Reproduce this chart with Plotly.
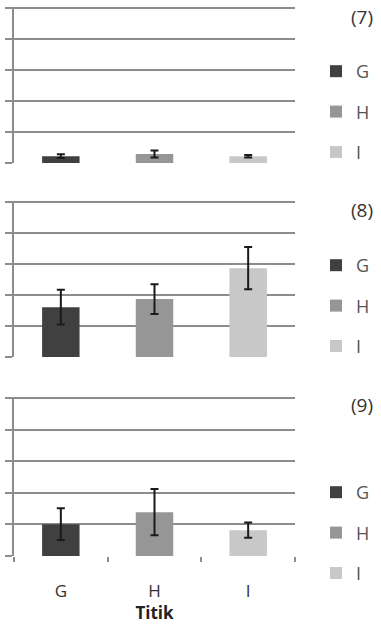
import plotly.graph_objects as go

categories = ["G", "H", "I"]
colors = ["#404040", "#969696", "#c8c8c8"]
panel_titles = ["(7)", "(8)", "(9)"]
values_7 = [0.22, 0.29, 0.22]
errors_7 = [0.06, 0.11, 0.04]
values_8 = [1.61, 1.87, 2.87]
errors_8 = [0.56, 0.48, 0.68]
values_9 = [1.01, 1.39, 0.82]
errors_9 = [0.50, 0.73, 0.24]
y_ticks = [0, 1, 2, 3, 4, 5]
x_title = "Titik"

panels = [(values_7, errors_7), (values_8, errors_8), (values_9, errors_9)]

W, H = 381, 624
def py(px):
    return 1 - px / H

ymax = 5.04
domains = [(py(163), py(7)), (py(357), py(201)), (py(556), py(397))]
legend_mid = [py(112), py(306), py(533)]
title_y = [py(17), py(210), py(405)]

fig = go.Figure()
grid = "#8c8c8c"
font = "Open Sans"

for p, (vals, errs) in enumerate(panels):
    xa = "x" if p == 0 else f"x{p+1}"
    ya = "y" if p == 0 else f"y{p+1}"
    lg = "legend" if p == 0 else f"legend{p+1}"
    for c, cat in enumerate(categories):
        fig.add_trace(go.Bar(
            x=[cat], y=[vals[c]], name=cat,
            marker=dict(color=colors[c], line=dict(width=0)),
            width=0.4,
            error_y=dict(type="data", array=[errs[c]], visible=True,
                         color="#1a1a1a", thickness=2, width=4),
            xaxis=xa, yaxis=ya, legend=lg, legendgroup=f"{p}{cat}",
            showlegend=True,
        ))
    axis_x = dict(domain=[14 / W, 295 / W], anchor=ya, categoryorder="array",
                  categoryarray=categories, showgrid=False, zeroline=False,
                  showline=False, fixedrange=True)
    if p == 2:
        axis_x.update(showticklabels=True, ticks="outside", tickson="boundaries",
                      ticklen=5, tickwidth=1.5, tickcolor=grid,
                      ticklabelstandoff=23,
                      tickfont=dict(family=font, size=17, color="#333333"),
                      title=dict(text="<b>" + x_title + "</b>",
                                 font=dict(family=font, size=17, color="#222222"),
                                 standoff=0))
    else:
        axis_x.update(showticklabels=False, ticks="")
    axis_y = dict(domain=list(domains[p]), anchor=xa, range=[0, ymax],
                  tickvals=y_ticks, showticklabels=False, ticks="outside",
                  ticklen=7, tickwidth=2, tickcolor=grid, showgrid=True,
                  gridcolor=grid, gridwidth=2, zeroline=False, showline=True,
                  linecolor=grid, linewidth=2, fixedrange=True)
    fig.update_layout(**{("xaxis" if p == 0 else f"xaxis{p+1}"): axis_x,
                         ("yaxis" if p == 0 else f"yaxis{p+1}"): axis_y})
    fig.update_layout(**{lg: dict(x=316 / W, xanchor="left", y=legend_mid[p],
                                  yanchor="middle", bgcolor="rgba(0,0,0,0)",
                                  font=dict(family=font, size=18, color="#555555"),
                                  tracegroupgap=14, itemwidth=30,
                                  itemclick=False, itemdoubleclick=False)})
    fig.add_annotation(text=panel_titles[p], xref="paper", yref="paper",
                       x=362 / W, y=title_y[p], xanchor="center", yanchor="middle",
                       showarrow=False, font=dict(family=font, size=19, color="#333333"))

# lighter gridline at 1 in the last panel, as in the reference
for col, wd in (("white", 3), ("#b4b4b4", 1)):
    fig.add_shape(type="line", xref="x3 domain", yref="y3", x0=0.005, x1=1,
                  y0=y_ticks[1], y1=y_ticks[1], layer="below",
                  line=dict(color=col, width=wd))

fig.update_layout(width=W, height=H, margin=dict(l=0, r=0, t=0, b=0),
                  paper_bgcolor="white", plot_bgcolor="white",
                  barmode="overlay", showlegend=True)

fig.write_html("out.html", config={"displayModeBar": False},
               post_script="document.body.style.margin='0';document.body.style.overflow='hidden';")
